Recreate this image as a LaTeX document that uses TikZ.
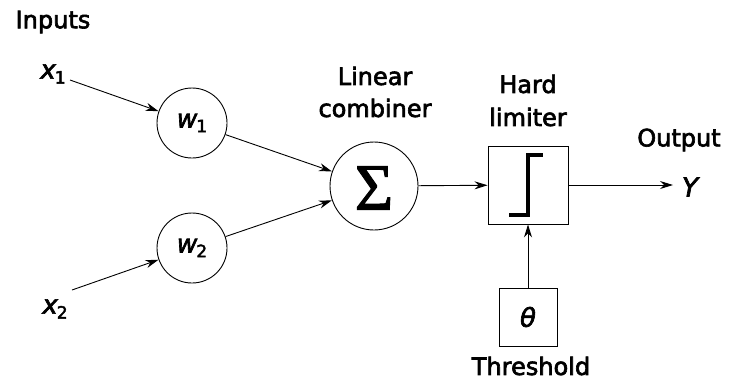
\documentclass[tikz,border=0pt]{standalone}
\usepackage{fontspec}
\setmainfont[FakeBold=2.6]{DejaVu Sans}
\newfontfamily\serifsig[FakeBold=1.5]{Liberation Serif}
\usetikzlibrary{arrows.meta}
\newcommand{\lbl}[2]{{\itshape #1}\kern-1pt\raisebox{-0.35ex}{\fontsize{17}{17}\selectfont #2}}
\begin{document}
\begin{tikzpicture}[x=1pt,y=-1pt,
  txt/.style={font=\fontsize{24}{24}\selectfont, inner sep=0pt},
  mathlbl/.style={font=\fontsize{26}{26}\selectfont, inner sep=0pt},
  wcirc/.style={draw, circle, line width=0.9pt, minimum size=70pt, inner sep=0pt, font=\fontsize{25}{25}\selectfont},
  box/.style={draw, rectangle, line width=0.9pt, inner sep=0pt},
  conn/.style={line width=0.9pt},
  arr/.style={conn, -{Stealth[length=13pt,width=8pt]}}]
\useasboundingbox (0,0) rectangle (738,381);
\fill[white] (0,0) rectangle (738,381);

\node[txt] (inputs) at (53,22) {Inputs};
\node[mathlbl] (x1) at (53,74) {\lbl{x}{1}};
\node[mathlbl] (x2) at (55,309) {\lbl{x}{2}};
\coordinate (x1s) at (70,80);
\coordinate (x2s) at (72,290);

\node[wcirc] (w1) at (192,123) {\lbl{w}{1}};
\node[wcirc] (w2) at (192,248) {\lbl{w}{2}};

\node[draw, circle, line width=0.9pt, minimum size=88pt, inner sep=0pt] (sig) at (374,186) {};
\node[font=\serifsig\fontsize{66}{66}\selectfont, inner sep=0pt] (sigsym) at (374,188) {Σ};

\node[txt] (lin1) at (375,76) {Linear};
\node[txt] (lin2) at (375,108) {combiner};

\node[txt] (hard1) at (528,84) {Hard};
\node[txt] (hard2) at (528,117) {limiter};

\node[box, minimum width=80pt, minimum height=78pt] (hl) at (528,185) {};
\draw[line width=3.2pt] (509,215) -- (528,215) -- (528,155) -- (543,155);

\node[box, minimum width=58pt, minimum height=58pt, font=\fontsize{26}{26}\selectfont] (th) at (528,317) {\itshape θ};
\node[txt] (thr) at (531,366) {Threshold};

\node[txt] (out) at (679,140) {Output};
\node[mathlbl] (y) at (690,187) {\itshape Y};
\coordinate (yend) at (673,185);

\draw[arr] (x1s) -- (w1);
\draw[arr] (x2s) -- (w2);
\draw[arr] (w1) -- (sig);
\draw[arr] (w2) -- (sig);
\draw[arr] (sig) -- (hl);
\draw[arr] (hl) -- (yend);
\draw[arr] (th) -- (hl);
\end{tikzpicture}
\end{document}
